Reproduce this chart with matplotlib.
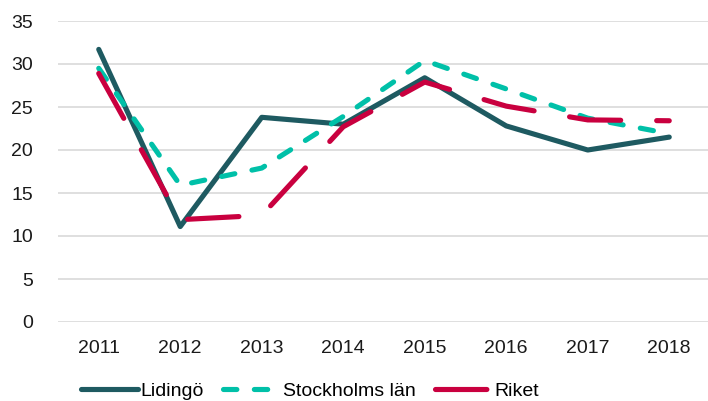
import matplotlib

matplotlib.use("Agg")
import matplotlib.pyplot as plt

plt.rcParams["font.family"] = ["Liberation Sans", "DejaVu Sans"]

years = ["2011", "2012", "2013", "2014", "2015", "2016", "2017", "2018"]
lidingo = [31.7, 11.1, 23.8, 23.0, 28.4, 22.8, 20.0, 21.5]
stockholm = [29.5, 15.9, 17.9, 23.9, 30.4, 27.1, 23.7, 21.9]
riket = [28.9, 11.9, 12.4, 22.7, 27.9, 25.1, 23.5, 23.4]
yticks = [0, 5, 10, 15, 20, 25, 30, 35]

W, H = 708, 401
fig = plt.figure(figsize=(W / 100, H / 100), dpi=100)
ax = fig.add_axes([58 / W, (H - 322) / H, 652 / W, 301 / H])

x = range(len(years))
lw = 3.7
ax.plot(x, lidingo, color="#1e5a61", linewidth=lw, solid_capstyle="round",
        solid_joinstyle="round", label="Lidingö", zorder=3)
ax.plot(x, stockholm, color="#00c0a8", linewidth=lw, dashes=(2.6, 3.4),
        dash_capstyle="round", dash_joinstyle="round", label="Stockholms län", zorder=4)
ax.plot(x, riket, color="#c9003f", linewidth=lw, dashes=(10, 7),
        dash_capstyle="round", dash_joinstyle="round", label="Riket", zorder=5)

ax.set_xlim(-0.5, len(years) - 0.5)
ax.set_ylim(0, 35)
ax.set_xticks(list(x))
ax.set_xticklabels(years)
ax.set_yticks(yticks)
ax.tick_params(axis="both", length=0, labelsize=14, colors="#1a1a1a")
ax.tick_params(axis="x", pad=13)
ax.tick_params(axis="y", pad=18)
ax.grid(axis="y", color="#d9d9d9", linewidth=1.2)
ax.set_axisbelow(True)
for s in ax.spines.values():
    s.set_visible(False)

fig.legend(loc="center", bbox_to_anchor=(310 / W, (H - 391) / H), ncol=3,
           frameon=False, fontsize=14, handlelength=2.9, handletextpad=0.15,
           columnspacing=1.0, borderaxespad=0)

fig.savefig("out.png", dpi=100, facecolor="white")
